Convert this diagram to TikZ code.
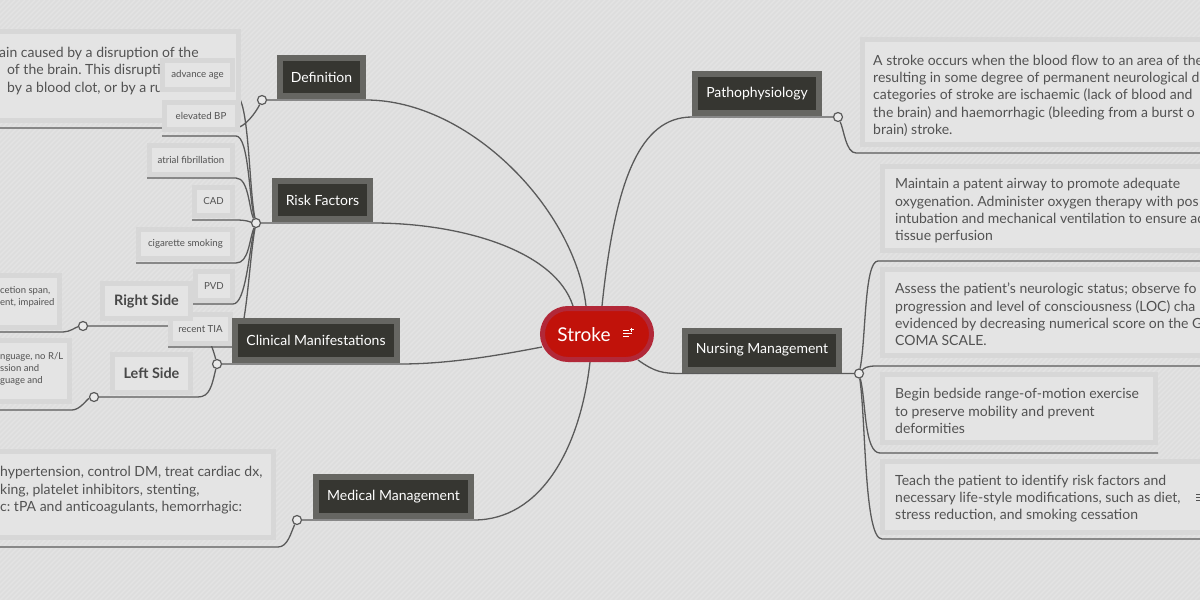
\documentclass[tikz,border=0pt]{standalone}
\usepackage{fontspec}
\setmainfont{Lato}
\usetikzlibrary{calc}
\frenchspacing
\definecolor{bgc}{RGB}{221,221,221}
\definecolor{linec}{RGB}{90,90,90}
\definecolor{topicfill}{RGB}{54,54,49}
\definecolor{topicframe}{RGB}{102,102,98}
\definecolor{parafill}{RGB}{228,228,228}
\definecolor{paraframe}{RGB}{215,215,215}
\definecolor{txtc}{RGB}{82,82,82}
\definecolor{boldc}{RGB}{72,72,72}
\definecolor{strokefill}{RGB}{193,18,10}
\definecolor{strokeframe}{RGB}{178,40,56}
\definecolor{knobfill}{RGB}{234,234,234}
\pgfdeclarelayer{back}
\pgfdeclarelayer{lines}
\pgfsetlayers{back,lines,main}
\tikzset{
  topic/.style={draw=topicframe, fill=topicfill, line width=6pt, text=white,
    font=\fontsize{14}{16}\selectfont, inner sep=0pt},
  para/.style={draw=paraframe, fill=parafill, line width=5pt, inner sep=0pt},
  leaf/.style={draw=paraframe, fill=parafill, line width=5pt, inner sep=0pt, text=txtc,
    font=\fontsize{9.7}{11}\selectfont},
  side/.style={draw=paraframe, fill=parafill, line width=5pt, inner sep=0pt, text=boldc,
    font=\bfseries\fontsize{14.4}{16}\selectfont},
  body/.style={anchor=north west, inner sep=0pt, align=left, text=txtc,
    font=\fontsize{14}{17.4}\selectfont},
  smallbody/.style={anchor=north west, inner sep=0pt, align=left, text=txtc,
    font=\fontsize{9.5}{11.7}\selectfont},
  conn/.style={draw=linec, line width=1.3pt},
  knob/.style={circle, draw=linec, fill=knobfill, line width=1.2pt, minimum size=9pt, inner sep=0pt},
}
\begin{document}
\begin{tikzpicture}[x=1pt,y=-1pt]
\useasboundingbox (0,0) rectangle (1200,600);
\begin{pgfonlayer}{back}
\fill[bgc] (0,0) rectangle (1200,600);
\foreach \i in {0,5,...,1800} \draw[white,opacity=0.2,line width=1.2pt] (\i,0) -- ++(-600,600);
\end{pgfonlayer}

% ---------- paragraph boxes (left, under leaves)
\node[para, minimum width=256pt, minimum height=89pt] (defp) at (110.5,76) {};
\node[body] (defpt) at (-1,45) {\strut ain caused by a disruption of the\\\hspace*{8pt}of the brain. This disruptio\\\hspace*{8pt}by a blood clot, or by a ru};

\node[para, minimum width=77pt, minimum height=52pt] (rsp) at (21,301.5) {};
\node[smallbody] (rspt) at (0,285.2) {\strut cetion span,\\ent, impaired};
\node[para, minimum width=87pt, minimum height=61pt] (lsp) at (26,371) {};
\node[smallbody] (lspt) at (0,351.6) {\strut nguage, no R/L\\ssion and\\guage and};
\node[para, minimum width=291pt, minimum height=86pt] (medp) at (128,494.5) {};
\node[body] (medpt) at (0,464.5) {\strut hypertension, control DM, treat cardiac dx,\\king, platelet inhibitors, stenting,\\c: tPA and anticoagulants, hemorrhagic:};

% ---------- right paragraph boxes
\node[para, minimum width=355pt, minimum height=105pt] (pathp) at (1040,92) {};
\node[body] (pathpt) at (873,52.8) {\strut A stroke occurs when the blood flow to an area of the\\resulting in some degree of permanent neurological d\\categories of stroke are ischaemic (lack of blood and\\the brain) and haemorrhagic (bleeding from a burst o\\brain) stroke.};
\node[para, minimum width=335pt, minimum height=84pt] (n1) at (1050,208.5) {};
\node[body] (n1t) at (895,176.3) {\strut Maintain a patent airway to promote adequate\\oxygenation. Administer oxygen therapy with pos\\intubation and mechanical ventilation to ensure ad\\tissue perfusion};
\node[para, minimum width=335pt, minimum height=86pt] (n2) at (1050,312.5) {};
\node[body] (n2t) at (895,281.3) {\strut Assess the patient’s neurologic status; observe fo\\progression and level of consciousness (LOC) cha\\evidenced by decreasing numerical score on the G\\COMA SCALE.};
\node[para, minimum width=273pt, minimum height=68pt] (n3) at (1019,408.5) {};
\node[body] (n3t) at (895,386.3) {\strut Begin bedside range-of-motion exercise\\to preserve mobility and prevent\\deformities};
\node[para, minimum width=335pt, minimum height=71pt] (n4) at (1050,497) {};
\node[body] (n4t) at (895,472.8) {\strut Teach the patient to identify risk factors and\\necessary life-style modifications, such as diet,\\stress reduction, and smoking cessation};
\draw[txtc, line width=1pt] (1196,494) -- (1201,494) (1196,497) -- (1201,497) (1196,500) -- (1201,500);

% ---------- risk factor leaves
\node[leaf, minimum width=70pt, minimum height=29pt] (aa) at (197.5,75) {advance age};
\node[leaf, minimum width=73pt, minimum height=27pt] (ebp) at (201,116) {elevated BP};
\node[leaf, minimum width=83pt, minimum height=29pt] (af) at (191,160) {atrial fibrillation};
\node[leaf, minimum width=38pt, minimum height=28pt] (cad) at (213.5,201.5) {CAD};
\node[leaf, minimum width=94pt, minimum height=29pt] (cig) at (185.5,244) {cigarette smoking};
\node[leaf, minimum width=37pt, minimum height=29pt] (pvd) at (214,286) {PVD};
\node[leaf, minimum width=60pt, minimum height=29pt] (tia) at (200.5,329) {recent TIA};

% ---------- sides
\node[side, minimum width=88pt, minimum height=35pt] (rs) at (146.5,301) {Right Side};
\node[side, minimum width=78pt, minimum height=38pt] (ls) at (151.5,373.5) {Left Side};

% ---------- topics
\node[topic, minimum width=83pt, minimum height=38pt] (def) at (321.5,77) {Definition};
\node[topic, minimum width=95pt, minimum height=38pt] (risk) at (322.5,200) {Risk Factors};
\node[topic, minimum width=162pt, minimum height=39pt] (clin) at (316,340.5) {Clinical Manifestations};
\node[topic, minimum width=155pt, minimum height=39pt] (med) at (393.5,496.5) {Medical Management};
\node[topic, minimum width=124pt, minimum height=39pt] (path) at (757,93.5) {Pathophysiology};
\node[topic, minimum width=154pt, minimum height=39pt] (nurs) at (762,350) {Nursing Management};

% ---------- central
\node[draw=strokeframe, fill=strokefill, line width=5pt, rounded corners=25.5pt,
      minimum width=109pt, minimum height=51pt, inner sep=0pt] (stroke) at (597,334) {};
\node[text=white, font=\fontsize{19}{22}\selectfont, inner sep=0pt] (stroketxt) at (584,334.5) {Stroke};
\draw[white, line width=1pt] (623,330) -- (629,330) (623,333) -- (632,333) (623,336) -- (629,336)
  (631.5,327.5) -- (631.5,331.5) (629.5,329.5) -- (633.5,329.5);

% ---------- knobs
\node[knob] (kdef) at (262,100) {};
\node[knob] (krisk) at (256,223) {};
\node[knob] (kclin) at (217,364) {};
\node[knob] (kmed) at (297,520) {};
\node[knob] (kpath) at (838,117) {};
\node[knob] (knurs) at (859,373.5) {};
\node[knob] (krs) at (83,326) {};
\node[knob] (kls) at (94,397) {};

% ---------- underline coordinates
\coordinate (defpA) at (235,128); \coordinate (defpB) at (-20,128);
\coordinate (pathpA) at (856,153); \coordinate (pathpB) at (1220,153);
\coordinate (medpA) at (278,547); \coordinate (medpB) at (-20,547);
\coordinate (rspA) at (63,332); \coordinate (rspB) at (-20,332);
\coordinate (lspA) at (72,410); \coordinate (lspB) at (-20,410);
\coordinate (rsA) at (192,326); \coordinate (lsA) at (198,397);
\coordinate (n1A) at (878,261); \coordinate (n1B) at (1220,261);
\coordinate (n2A) at (876,366); \coordinate (n2B) at (1220,366);
\coordinate (n3A) at (880,453); \coordinate (n3B) at (1158,453);
\coordinate (n4A) at (882,539); \coordinate (n4B) at (1220,539);
\coordinate (aaA) at (236,96); \coordinate (aaB) at (160,96);
\coordinate (ebpA) at (236,136); \coordinate (ebpB) at (162,136);
\coordinate (afA) at (236,178); \coordinate (afB) at (147,178);
\coordinate (cadA) at (236,220); \coordinate (cadB) at (192,220);
\coordinate (cigA) at (236,263); \coordinate (cigB) at (136,263);
\coordinate (pvdA) at (233,304); \coordinate (pvdB) at (193,304);
\coordinate (tiaA) at (233,347); \coordinate (tiaB) at (168,347);

\begin{pgfonlayer}{lines}
% stroke to topics
\draw[conn] ($(stroke.north)+(-11,0)$) .. controls (575,210) and (470,100) .. ($(def.south east)+(0,1)$) -- (kdef);
\draw[conn] ($(stroke.north)+(-24,0)$) .. controls (555,250) and (460,223) .. ($(risk.south east)+(0,1)$) -- (krisk);
\draw[conn] ($(stroke.west)+(2,13)$) .. controls (500,355) and (450,364) .. ($(clin.south east)+(0,1)$) -- (kclin);
\draw[conn] ($(stroke.south)+(-7,0)$) .. controls (580,450) and (540,520) .. ($(med.south east)+(0,1)$) -- (kmed);
\draw[conn] ($(stroke.north)+(5,0)$) .. controls (615,180) and (640,117) .. ($(path.south west)+(0,1)$) -- (kpath);
\draw[conn] ($(stroke.east)+(-16,26)$) .. controls (655,372) and (662,373.5) .. ($(nurs.south west)+(0,1)$) -- (knurs);
% topic knobs to children
\draw[conn] (kdef) .. controls +(-6,12) and +(10,0) .. (defpA) -- (defpB);
\draw[conn] (kpath) .. controls +(6,13) and +(-10,0) .. (pathpA) -- (pathpB);
\draw[conn] (kmed) .. controls +(-6,12) and +(10,0) .. (medpA) -- (medpB);
\draw[conn] (kclin) .. controls +(-5,-19) and +(13,0) .. (rsA) -- (krs);
\draw[conn] (kclin) .. controls +(-5,21) and +(12,0) .. (lsA) -- (kls);
\draw[conn] (krs) .. controls +(-7,1) and +(7,0) .. (rspA) -- (rspB);
\draw[conn] (kls) .. controls +(-7,2) and +(8,0) .. (lspA) -- (lspB);
\draw[conn] (knurs) .. controls +(7,-33) and +(-14,0) .. (n1A) -- (n1B);
\draw[conn] (knurs) .. controls +(5,-5) and +(-10,0) .. (n2A) -- (n2B);
\draw[conn] (knurs) .. controls +(7,27) and +(-16,0) .. (n3A) -- (n3B);
\draw[conn] (knurs) .. controls +(7,47) and +(-18,0) .. (n4A) -- (n4B);
% risk leaves
\draw[conn] (aaB) -- (aaA) .. controls +(13,0) and +(-7,-33) .. (krisk);
\draw[conn] (ebpB) -- (ebpA) .. controls +(13,0) and +(-7,-23) .. (krisk);
\draw[conn] (afB) -- (afA) .. controls +(13,0) and +(-7,-13) .. (krisk);
\draw[conn] (cadB) -- (cadA) .. controls +(11,0) and +(-6,-1) .. (krisk);
\draw[conn] (cigB) -- (cigA) .. controls +(13,0) and +(-7,17) .. (krisk);
\draw[conn] (pvdB) -- (pvdA) .. controls +(13,0) and +(-7,27) .. (krisk);
\draw[conn] (tiaB) -- (tiaA) .. controls +(13,0) and +(-7,37) .. (krisk);
\end{pgfonlayer}
\end{tikzpicture}
\end{document}
